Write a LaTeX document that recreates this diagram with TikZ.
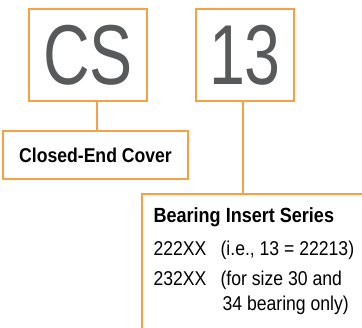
\documentclass[tikz,border=0pt]{standalone}
\usepackage{fontspec}
\setmainfont{Liberation Sans}
\newfontfamily\bigcond[FakeStretch=0.76]{Liberation Sans}
\newfontfamily\cond[FakeStretch=0.88]{Liberation Sans}
\usepackage{tikz}
\definecolor{rule}{RGB}{247,160,70}
\definecolor{ink}{RGB}{88,89,91}

\begin{document}
\begin{tikzpicture}[x=1pt, y=-1pt, line width=1.2pt,
  codebox/.style={draw=rule, minimum width=118pt, minimum height=92pt, inner sep=0pt,
    text=ink, font=\bigcond\fontsize{85}{85}\selectfont},
  txt/.style={anchor=base west, inner sep=0pt, font=\cond\fontsize{20}{20}\selectfont}]
\useasboundingbox (0, 0) rectangle (362, 328);
\node[codebox] (cs) at (88, 55) {CS};
\node[codebox, minimum width=98pt] (num) at (245, 55) {13};
\node[draw=rule, minimum width=185pt, minimum height=48pt, inner sep=0pt,
  font=\cond\bfseries\fontsize{20}{20}\selectfont] (closed) at (95.5, 155) {Closed-End Cover};
\coordinate (drop) at (97, 131);
\draw[rule] (drop |- cs.south) -- (drop);
% open box for the insert series
\coordinate (corner) at (142, 194);
\draw[rule] (362, 194) -- (corner) -- (142, 328);
\draw[rule] ([xshift=-2pt]num.south) -- ([xshift=-2pt]num.south |- corner);
\node[txt, font=\cond\bfseries\fontsize{20.5}{20}\selectfont] (title) at (153, 223) {Bearing Insert Series};
\node[txt] (codeA) at (153, 256) {222XX};
\node[txt] (noteA) at (220, 256) {(i.e., 13 = 22213)};
\node[txt] (codeB) at (153, 286) {232XX};
\node[txt] (noteB) at (220, 286) {(for size 30 and};
\node[txt] (noteC) at (222, 311) {34 bearing only)};
\end{tikzpicture}
\end{document}
